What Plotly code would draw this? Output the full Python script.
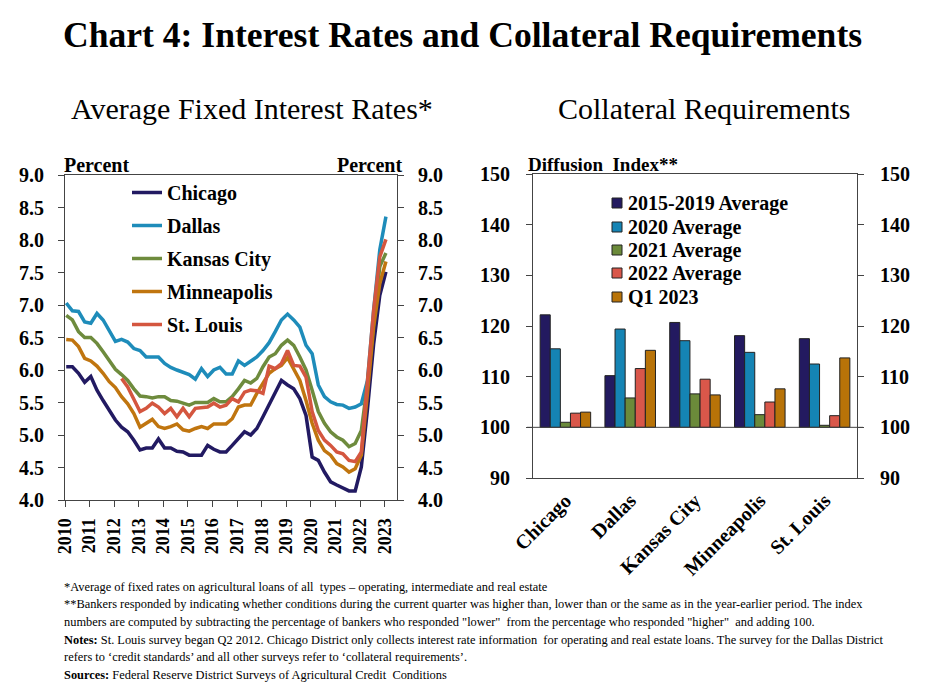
import plotly.graph_objects as go

W, H = 925, 693
def px(x): return x / W
def py(y): return 1 - y / H

FONT = "Liberation Serif"

# ---------------- Data: left chart (quarterly, 2010Q1 - 2023Q1) ----------------
years = list(range(2010, 2024))
year_labels = [str(y) for y in years]

chicago = [6.05,6.05,5.95,5.81,5.90,5.69,5.53,5.38,5.23,5.12,5.05,4.92,4.77,4.80,4.80,4.94,
           4.80,4.80,4.75,4.74,4.69,4.69,4.69,4.84,4.78,4.74,4.74,4.84,4.94,5.05,5.00,5.10,
           5.28,5.46,5.66,5.84,5.77,5.71,5.56,5.30,4.66,4.61,4.43,4.28,4.23,4.19,4.14,4.14,
           4.51,5.40,6.40,7.15,7.51]
dallas = [7.03,6.91,6.90,6.74,6.72,6.87,6.77,6.61,6.44,6.47,6.43,6.33,6.30,6.20,6.20,6.20,
          6.10,6.04,6.00,5.96,5.93,5.86,6.02,5.90,6.00,6.04,5.94,5.94,6.14,6.07,6.13,6.20,
          6.30,6.42,6.59,6.77,6.86,6.77,6.66,6.38,6.25,5.77,5.59,5.51,5.47,5.46,5.41,5.43,
          5.48,5.84,6.92,7.85,8.36]
kansas_city = [6.84,6.77,6.59,6.50,6.50,6.41,6.28,6.15,6.01,5.93,5.84,5.71,5.60,5.59,5.57,5.59,
               5.59,5.53,5.52,5.49,5.46,5.50,5.50,5.50,5.56,5.51,5.51,5.59,5.71,5.84,5.80,5.87,
               6.05,6.20,6.25,6.38,6.46,6.38,6.20,6.00,5.69,5.36,5.18,5.05,4.97,4.92,4.82,4.87,
               5.07,5.79,6.72,7.59,7.80]
minneapolis = [6.47,6.46,6.36,6.18,6.14,6.06,5.95,5.82,5.73,5.59,5.48,5.33,5.12,5.18,5.24,5.13,
               5.10,5.13,5.17,5.08,5.06,5.10,5.13,5.10,5.17,5.17,5.17,5.25,5.43,5.46,5.46,5.64,
               5.79,5.95,6.02,6.07,6.19,6.02,5.84,5.53,5.18,4.92,4.76,4.69,4.56,4.51,4.43,4.48,
               4.69,5.64,6.66,7.33,7.67]
st_louis = [None]*9 + [5.87,5.74,5.55,5.36,5.41,5.49,5.43,5.33,5.41,5.28,5.41,5.28,5.41,5.42,
               5.43,5.49,5.43,5.46,5.56,5.51,5.66,5.69,5.68,5.64,6.06,6.02,6.10,6.30,6.07,6.06,
               5.89,5.36,5.07,4.92,4.84,4.74,4.71,4.61,4.59,4.74,5.79,6.92,7.74,8.01]

n_q = len(chicago)
quarters = [2010 + i // 4 + (i % 4) / 4 + 0.05 for i in range(n_q)]

line_series = [
    ("Chicago", chicago, "#221A62"),
    ("Dallas", dallas, "#1E8CBA"),
    ("Kansas City", kansas_city, "#6E8B3D"),
    ("Minneapolis", minneapolis, "#C0750F"),
    ("St. Louis", st_louis, "#D4563F"),
]

# ---------------- Data: right chart ----------------
districts = ["Chicago", "Dallas", "Kansas City", "Minneapolis", "St. Louis"]
avg_2015_2019 = [122.2, 110.2, 120.7, 118.1, 117.5]
avg_2020 = [115.5, 119.4, 117.1, 114.8, 112.5]
avg_2021 = [101.0, 105.8, 106.6, 102.5, 100.4]
avg_2022 = [102.8, 111.6, 109.5, 105.0, 102.3]
q1_2023 = [103.0, 115.2, 106.4, 107.6, 113.7]
bar_base = 100

bar_series = [
    ("2015-2019 Average", avg_2015_2019, "#231A60"),
    ("2020 Average", avg_2020, "#1584B4"),
    ("2021 Average", avg_2021, "#6B8A3A"),
    ("2022 Average", avg_2022, "#D9574A"),
    ("Q1 2023", q1_2023, "#B87308"),
]

fig = go.Figure()

for name, vals, col in line_series:
    fig.add_trace(go.Scatter(
        x=quarters, y=vals, name=name, mode="lines",
        line=dict(color=col, width=3.5), legendgroup=name,
        xaxis="x", yaxis="y", connectgaps=False))

# dummy traces to make overlay axes render
fig.add_trace(go.Scatter(x=[None], y=[None], xaxis="x", yaxis="y3", showlegend=False, hoverinfo="skip"))
fig.add_trace(go.Scatter(x=[None], y=[None], xaxis="x2", yaxis="y4", showlegend=False, hoverinfo="skip"))

for name, vals, col in bar_series:
    fig.add_trace(go.Bar(
        x=districts, y=[v - bar_base for v in vals], base=bar_base, name=name,
        marker=dict(color=col, line=dict(color="#222222", width=1)),
        xaxis="x2", yaxis="y2", showlegend=False))

axis_col = "#444444"
tickfont_l = dict(family=FONT, size=20, color="black", weight="bold")
tickfont_r = dict(family=FONT, size=20, color="black", weight="bold")

left_x = [px(65), px(397)]
left_y = [py(500), py(175)]
right_x = [px(533), px(857)]
right_y = [py(478), py(174)]

common = dict(automargin=False, showgrid=False, zeroline=False)

fig.update_layout(
    width=W, height=H, margin=dict(l=0, r=0, t=0, b=0, pad=0, autoexpand=False),
    paper_bgcolor="white", plot_bgcolor="white",
    showlegend=True, barmode="group", bargap=0.22, bargroupgap=0,
    font=dict(family=FONT, color="black"),
    xaxis=dict(domain=left_x, anchor="y", range=[2010, 2023.5],
               tickvals=years, ticktext=year_labels, tickangle=-90,
               ticks="outside", ticklen=6, tickcolor=axis_col, tickwidth=1,
               showline=True, linecolor=axis_col, linewidth=1, mirror=True,
               tickfont=dict(family=FONT, size=18, weight="bold"),
               ticklabelstandoff=4, **common),
    yaxis=dict(domain=left_y, anchor="x", range=[4, 9], dtick=0.5, tickformat=".1f",
               ticks="outside", ticklen=6, tickcolor=axis_col, showline=True,
               linecolor=axis_col, linewidth=1,
               tickfont=tickfont_l, ticklabelstandoff=10, **common),
    yaxis3=dict(overlaying="y", side="right", anchor="x", range=[4, 9], dtick=0.5,
                tickformat=".1f", ticks="outside", ticklen=6, tickcolor=axis_col,
                showline=True, linecolor=axis_col, linewidth=1,
                tickfont=tickfont_l, ticklabelstandoff=10, **common),
    xaxis2=dict(domain=right_x, anchor="y2", type="category",
                tickangle=-45, ticks="", showline=True, linecolor=axis_col,
                linewidth=1, mirror=True,
                tickfont=tickfont_r, ticklabelstandoff=2, **common),
    yaxis2=dict(domain=right_y, anchor="x2", range=[90, 150], dtick=10,
                ticks="outside", ticklen=6, tickcolor=axis_col, showline=True,
                linecolor=axis_col, linewidth=1,
                tickfont=tickfont_r, ticklabelstandoff=12, **common),
    yaxis4=dict(overlaying="y2", side="right", anchor="x2", range=[90, 150], dtick=10,
                ticks="outside", ticklen=6, tickcolor=axis_col, showline=True,
                linecolor=axis_col, linewidth=1,
                tickfont=tickfont_r, ticklabelstandoff=12, **common),
    legend=dict(x=px(127), y=py(173), xanchor="left", yanchor="top",
                bgcolor="rgba(0,0,0,0)", traceorder="grouped", tracegroupgap=4,
                font=dict(family=FONT, size=20, color="black", weight="bold"),
                itemclick=False, itemdoubleclick=False),
)

shapes = []
shapes.append(dict(type="line", xref="paper", yref="y2", x0=px(527), x1=px(863),
                   y0=bar_base, y1=bar_base, line=dict(color=axis_col, width=1)))
leg_rows = [203, 227, 250, 273, 297]
annotations = []
for (name, vals, col), yy in zip(bar_series, leg_rows):
    shapes.append(dict(type="rect", xref="paper", yref="paper",
                       x0=px(612), x1=px(622), y0=py(yy + 5), y1=py(yy - 5),
                       fillcolor=col, line=dict(color="#222222", width=1)))
    annotations.append(dict(text=name, xref="paper", yref="paper", x=px(626), y=py(yy),
                            xanchor="left", yanchor="middle", showarrow=False,
                            font=dict(family=FONT, size=20, color="black", weight="bold")))

def ann(text, x, y, size, xanchor="center", yanchor="middle", bold=False):
    f = dict(family=FONT, size=size, color="black")
    if bold:
        f["weight"] = "bold"
    annotations.append(dict(text=text, xref="paper", yref="paper", x=px(x), y=py(y),
                            xanchor=xanchor, yanchor=yanchor, showarrow=False, font=f,
                            align="left"))

ann("Chart 4: Interest Rates and Collateral Requirements", 462, 35, 35.6, bold=True)
ann("Average Fixed Interest Rates*", 252, 108, 30)
ann("Collateral Requirements", 704, 108, 30)
ann("Percent", 62, 178, 20, xanchor="left", yanchor="bottom", bold=True)
ann("Percent", 404, 178, 20, xanchor="right", yanchor="bottom", bold=True)
ann("Diffusion  Index**", 526, 177, 19, xanchor="left", yanchor="bottom", bold=True)

foot = [
    (587, "*Average of fixed rates on agricultural loans of all  types \u2013 operating, intermediate and real estate"),
    (604, "**Bankers responded by indicating whether conditions during the current quarter was higher than, lower than or the same as in the year-earlier period. The index"),
    (622, 'numbers are computed by subtracting the percentage of bankers who responded "lower"  from the percentage who responded "higher"  and adding 100.'),
    (640, "<b>Notes:</b> St. Louis survey began Q2 2012. Chicago District only collects interest rate information  for operating and real estate loans. The survey for the Dallas District"),
    (657, "refers to \u2018credit standards\u2019 and all other surveys refer to \u2018collateral requirements\u2019."),
    (675, "<b>Sources:</b> Federal Reserve District Surveys of Agricultural Credit  Conditions"),
]
for yy, t in foot:
    ann(t, 62, yy, 12.4, xanchor="left")

fig.update_layout(shapes=shapes, annotations=annotations)

fig.write_html("out.html")
